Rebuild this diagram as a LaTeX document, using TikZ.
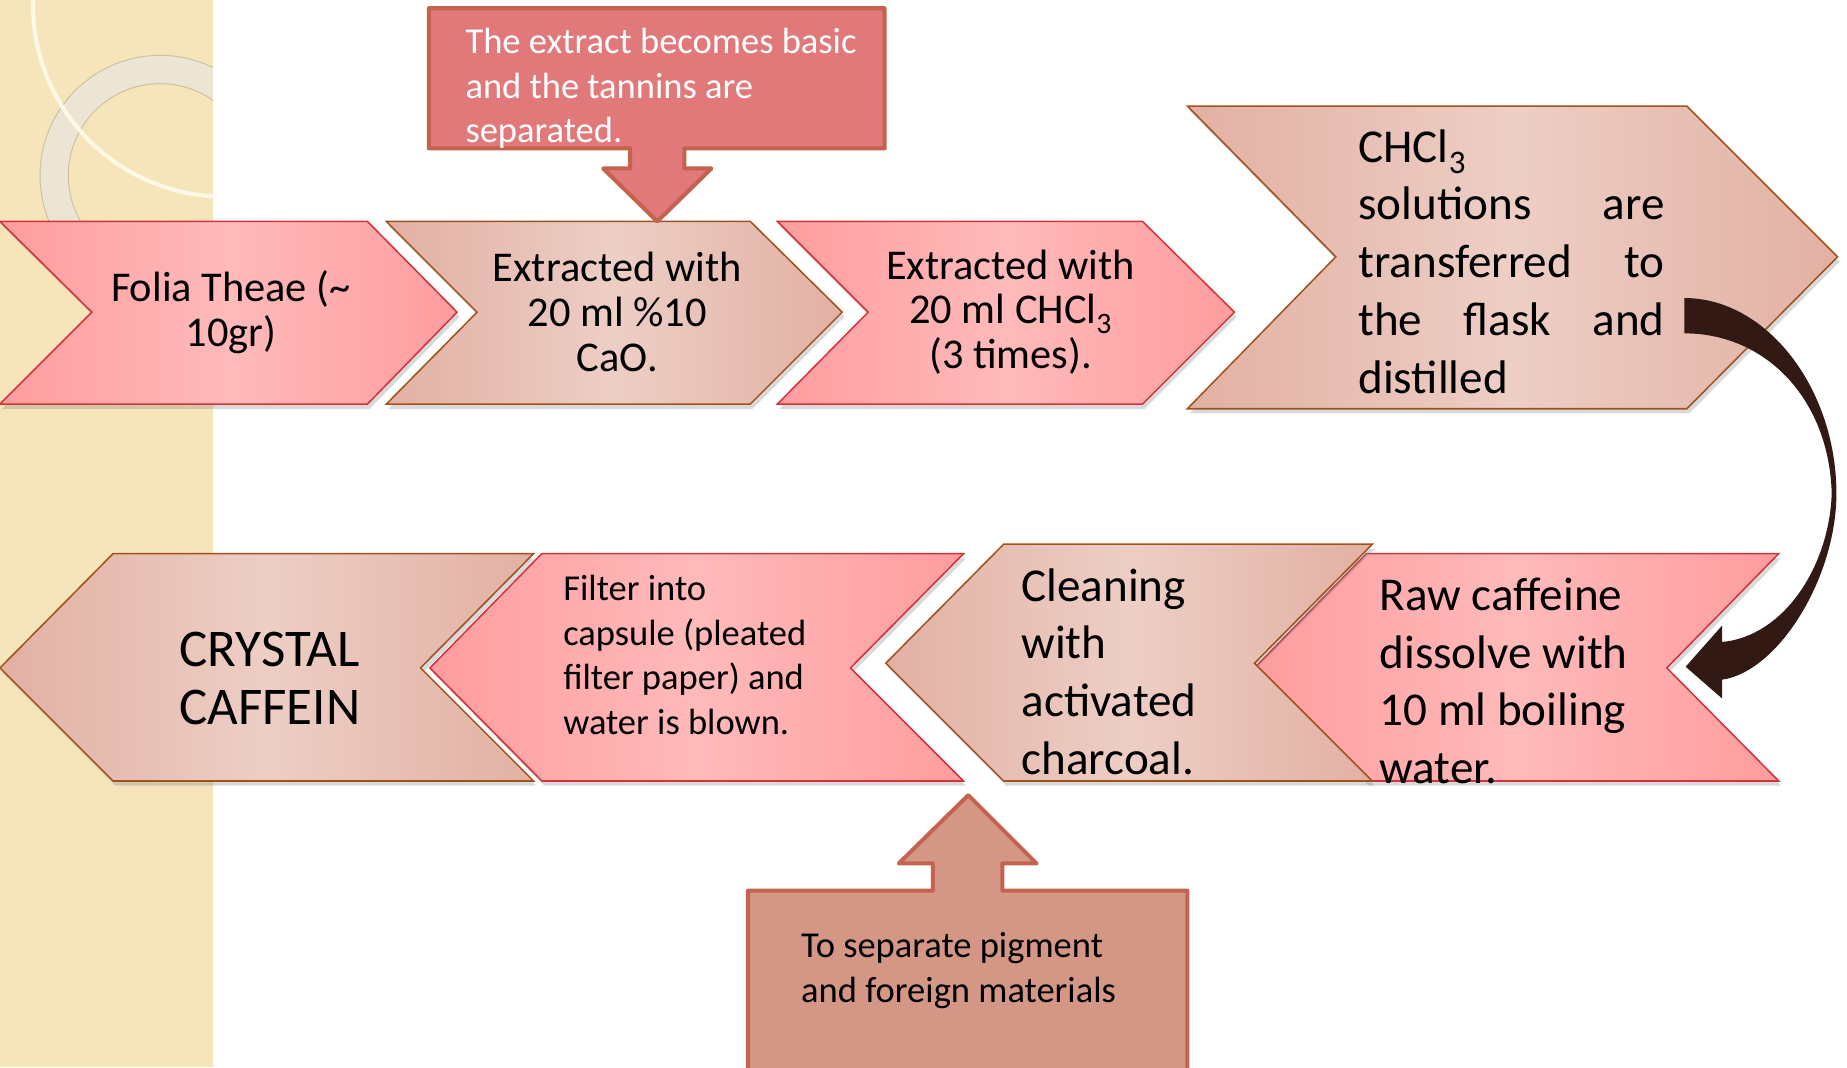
\documentclass[tikz,border=0pt]{standalone}
\usepackage{fontspec}
\setmainfont{Carlito}
\usetikzlibrary{shadows}
\definecolor{pinkEdge}{RGB}{255,156,158}
\definecolor{pinkMid}{RGB}{255,186,186}
\definecolor{redLine}{RGB}{208,52,60}
\definecolor{tanEdge}{RGB}{226,176,163}
\definecolor{tanMid}{RGB}{237,206,197}
\definecolor{brownLine}{RGB}{160,82,28}
\definecolor{topFill}{RGB}{225,120,122}
\definecolor{topLine}{RGB}{196,98,78}
\definecolor{botFill}{RGB}{212,150,133}
\definecolor{botLine}{RGB}{196,100,80}
\definecolor{curveCol}{RGB}{51,25,19}
\definecolor{stripCol}{RGB}{246,229,186}
\definecolor{ringGray}{RGB}{236,230,216}
\definecolor{ringEdge}{RGB}{205,190,160}
\definecolor{ringCream}{RGB}{255,248,228}
\tikzstyle{pinkChev} = [draw=redLine, line width=1.3pt, left color=pinkEdge, right color=pinkEdge, middle color=pinkMid, drop shadow={shadow xshift=2pt, shadow yshift=-4pt, opacity=0.3}]
\tikzstyle{tanChev} = [draw=brownLine, line width=1.3pt, left color=tanEdge, right color=tanEdge, middle color=tanMid, drop shadow={shadow xshift=2pt, shadow yshift=-4pt, opacity=0.3}]
\tikzstyle{topNote} = [draw=topLine, line width=3.4pt, line join=round, fill=topFill]
\tikzstyle{botNote} = [draw=botLine, line width=3.4pt, line join=round, fill=botFill]
\tikzstyle{stepText} = [inner sep=0pt, align=center, font=\fontsize{36}{38}\selectfont]
\tikzstyle{bigText} = [inner sep=0pt, align=left, anchor=west, font=\fontsize{40}{49}\selectfont]
\tikzstyle{noteText} = [inner sep=0pt, align=left, anchor=west, font=\fontsize{31}{38}\selectfont]
\newcommand{\jline}[1]{\makebox[260pt][s]{#1}}

\begin{document}
\begin{tikzpicture}[x=1pt, y=-1pt]
    \useasboundingbox (0,0) rectangle (1568,906);
    \begin{scope}
        \clip (0,0) rectangle (181,906);
        \fill[stripCol] (0,0) rectangle (181,906);
        \fill[ringGray, opacity=0.9, even odd rule] (136,149) circle (102) (136,149) circle (78);
        \draw[ringEdge, line width=0.8pt] (136,149) circle (102) (136,149) circle (78);
        \draw[ringCream, line width=3.5pt] (191,4) circle (163);
    \end{scope}

    \draw[pinkChev] (0,188) -- (312,188) -- (388,265) -- (312,343) -- (0,343) -- (78,265) -- cycle;
    \draw[tanChev] (328,188) -- (637,188) -- (715,265) -- (637,343) -- (328,343) -- (405,265) -- cycle;
    \draw[pinkChev] (660,188) -- (970,188) -- (1048,265) -- (970,343) -- (660,343) -- (737,265) -- cycle;
    \draw[tanChev] (1008,90) -- (1432,90) -- (1560,218) -- (1432,347) -- (1008,347) -- (1134,218) -- cycle;

    \draw[pinkChev] (1065,567) -- (1160,470) -- (1510,470) -- (1415,567) -- (1510,663) -- (1160,663) -- cycle;
    \draw[tanChev] (752,563) -- (852,462) -- (1165,462) -- (1065,563) -- (1165,663) -- (852,663) -- cycle;
    \draw[pinkChev] (365,567) -- (460,470) -- (818,470) -- (722,567) -- (818,663) -- (460,663) -- cycle;
    \draw[tanChev] (0,567) -- (96,470) -- (453,470) -- (357,567) -- (453,663) -- (96,663) -- cycle;

    \draw[topNote] (364,7) -- (751,7) -- (751,126) -- (581,126) -- (581,143) -- (604,143) -- (558,188) -- (512,143) -- (535,143) -- (535,126) -- (364,126) -- cycle;
    \draw[botNote] (635,920) -- (635,756) -- (792,756) -- (792,733) -- (763,733) -- (822,675) -- (880,733) -- (851,733) -- (851,756) -- (1008,756) -- (1008,920);

    \fill[curveCol] (1430,253) .. controls (1500,253) and (1559,330) .. (1559,419)
        .. controls (1559,490) and (1510,570) .. (1462,577) -- (1462,593) -- (1431,566) -- (1462,531) -- (1462,545)
        .. controls (1515,540) and (1553,480) .. (1555,419)
        .. controls (1553,340) and (1500,283) .. (1430,283) -- cycle;

    \node (folia) [stepText] at (196,265) {Folia Theae (\textasciitilde\\10gr)};
    \node (extrCaO) [stepText] at (524,265) {Extracted with\\20 ml \%10\\CaO.};
    \node (extrCHCl) [stepText] at (858,265) {Extracted with\\20 ml CHCl\textsubscript{3}\\(3 times).};
    \node (distil) [bigText] at (1153,222) {CHCl\textsubscript{3}\\\jline{solutions\hfill are}\\\jline{transferred\hfill to}\\\jline{the\hfill flask\hfill and}\\distilled};
    \node (rawCaf) [bigText] at (1171,578) {Raw caffeine\\dissolve with\\10 ml boiling\\water.};
    \node (clean) [bigText] at (867,570) {Cleaning\\with\\activated\\charcoal.};
    \node (filter) [noteText] at (478,556) {Filter into\\capsule (pleated\\filter paper) and\\water is blown.};
    \node (crystal) [stepText, font=\fontsize{45}{49}\selectfont] at (229,576) {CRYSTAL\\CAFFEIN};
    \node (tannin) [noteText, text=white] at (395,75) {The extract becomes basic\\and the tannins are\\separated.};
    \node (pigment) [noteText] at (680,824) {To separate pigment\\and foreign materials};
\end{tikzpicture}
\end{document}
